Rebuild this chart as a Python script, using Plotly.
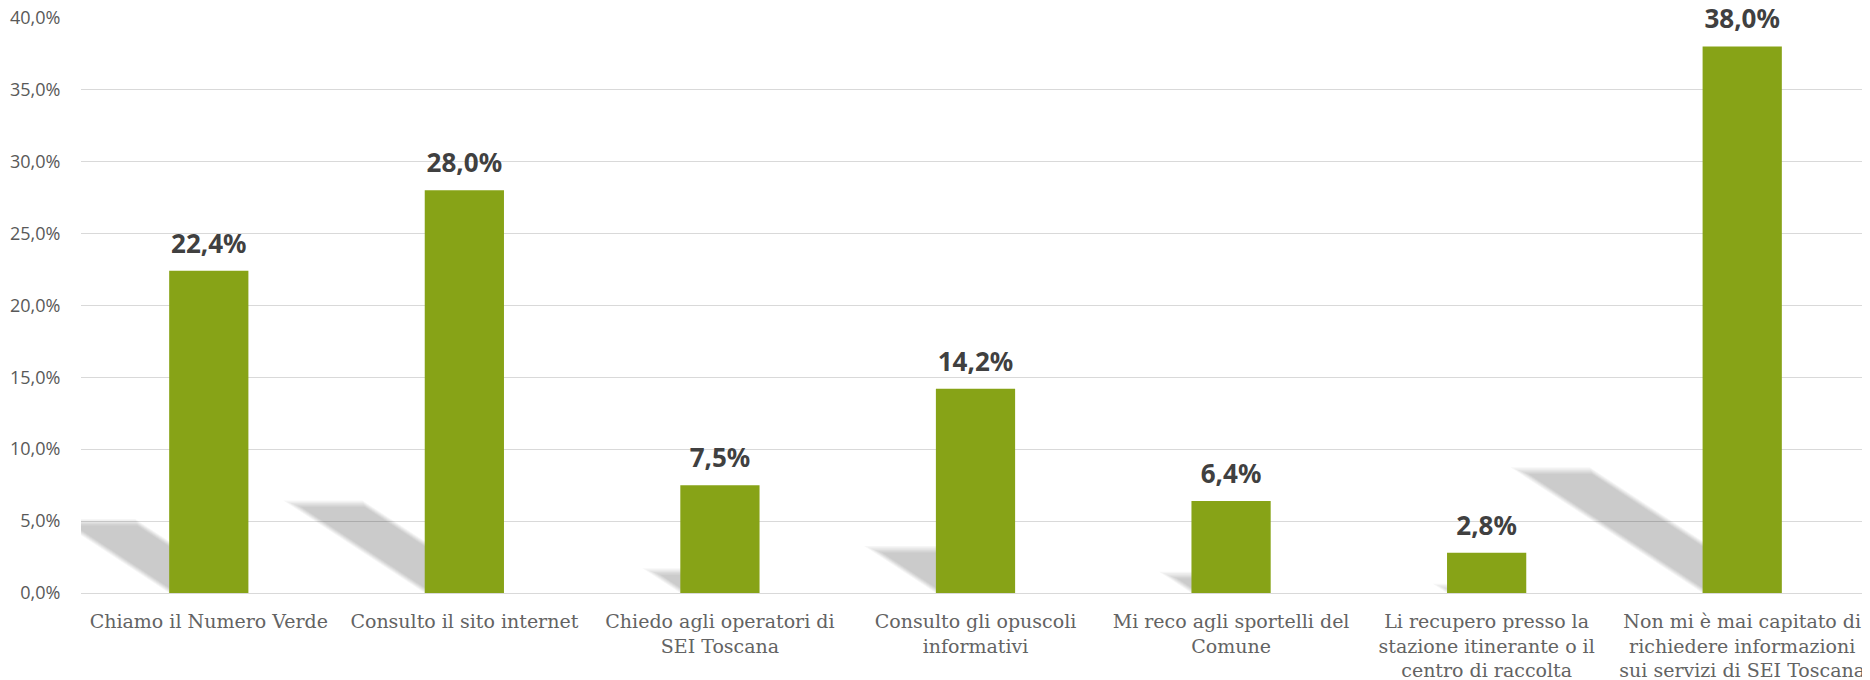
import plotly.graph_objects as go

categories = [
    "Chiamo il Numero Verde",
    "Consulto il sito internet",
    "Chiedo agli operatori di<br>SEI Toscana",
    "Consulto gli opuscoli<br>informativi",
    "Mi reco agli sportelli del<br>Comune",
    "Li recupero presso la<br>stazione itinerante o il<br>centro di raccolta",
    "Non mi è mai capitato di<br>richiedere informazioni<br>sui servizi di SEI Toscana",
]
values = [22.4, 28.0, 7.5, 14.2, 6.4, 2.8, 38.0]
y_ticks = [0, 5, 10, 15, 20, 25, 30, 35, 40]

BAR_COLOR = "#87A317"
BAR_WIDTH = 0.31
# perspective shadow: height relative to bar, horizontal lean per % of shadow height
SHADOW_RATIO = 0.23
SHADOW_LEAN = 0.086

def pct(v):
    return f"{v:.1f}%".replace(".", ",")

positions = list(range(len(categories)))
x_range = [-0.5, len(categories) - 0.5]
# a hair above 40 so the top gridline is still drawn
y_range = [0, 40.05]
fig = go.Figure()

# soft shadows on the base axes, so the bars (overlay axes) sit on top
for i, v in zip(positions, values):
    h = v * SHADOW_RATIO
    x0, x1 = i - BAR_WIDTH / 2, i + BAR_WIDTH / 2
    for k in range(6):
        dx = k * 0.006
        dy = k * 0.09
        top = h - dy
        shift = top * SHADOW_LEAN
        xs = [x0 + dx, x1 - dx, x1 - dx - shift, x0 + dx - shift, x0 + dx]
        ys = [0, 0, top, top, 0]
        fig.add_trace(go.Scatter(
            x=xs, y=ys, mode="lines", fill="toself",
            fillcolor="rgba(0,0,0,0.035)", line=dict(width=0),
            hoverinfo="skip", showlegend=False,
        ))

fig.add_trace(go.Bar(
    x=positions, y=values, width=BAR_WIDTH,
    marker=dict(color=BAR_COLOR, line=dict(width=0)),
    xaxis="x2", yaxis="y2", showlegend=False,
))
# value labels, lifted above the bars by an invisible marker
fig.add_trace(go.Scatter(
    x=positions, y=values, mode="markers+text",
    marker=dict(size=17, opacity=0),
    text=[pct(v) for v in values], textposition="top center",
    textfont=dict(family="Noto Sans", size=26, color="#404040", weight="bold"),
    cliponaxis=False, hoverinfo="skip",
    xaxis="x2", yaxis="y2", showlegend=False,
))

# page body adds an 8px offset, so the figure is 8px smaller than the window
fig.update_layout(
    width=1862, height=672,
    margin=dict(l=73, r=0, t=9, b=87),
    plot_bgcolor="white", paper_bgcolor="white",
    xaxis=dict(
        range=x_range, tickvals=positions, ticktext=categories,
        tickfont=dict(family="DejaVu Serif", size=19, color="#636363"),
        ticks="outside", ticklen=11, tickcolor="rgba(0,0,0,0)",
        ticklabeloverflow="allow",
        showgrid=False, zeroline=False, showline=False, automargin=False,
    ),
    yaxis=dict(
        range=y_range, tickvals=y_ticks, ticktext=[pct(t) for t in y_ticks],
        tickfont=dict(family="Open Sans", size=18, color="#595959"),
        ticks="outside", ticklen=16, tickcolor="rgba(0,0,0,0)",
        ticklabeloverflow="allow",
        showgrid=True, gridcolor="#D9D9D9", gridwidth=1,
        zeroline=True, zerolinecolor="#D9D9D9", zerolinewidth=1,
        showline=False, automargin=False,
    ),
    xaxis2=dict(range=x_range, overlaying="x", visible=False),
    yaxis2=dict(range=y_range, overlaying="y", visible=False),
)

fig.write_html("out.html")
